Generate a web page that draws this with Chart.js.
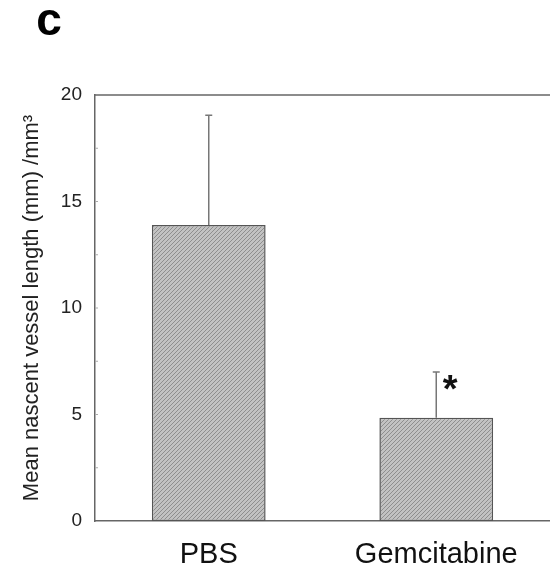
<!DOCTYPE html>
<html>
<head>
<meta charset="utf-8">
<script src="https://cdn.jsdelivr.net/npm/chart.js@4"></script>
<style>
    html, body { margin: 0; padding: 0; background: #fff; }
    #wrap { width: 550px; height: 576px; position: relative; }
</style>
</head>
<body>
<div id="wrap"><canvas id="barChart" width="550" height="576"></canvas></div>
<script>
// ===== DATA =====
const categories = ["PBS", "Gemcitabine"];
const meanValues = [13.9, 4.85];
const errorTops = [19.05, 7.0];
const significant = [false, true];
const yTicks = [0, 5, 10, 15, 20];

// ===== HATCH PATTERN =====
function makeHatch() {
    const c = document.createElement("canvas");
    c.width = 4;
    c.height = 4;
    const g = c.getContext("2d");
    g.fillStyle = "#c2c2c2";
    g.fillRect(0, 0, 4, 4);
    g.strokeStyle = "#8e8e8e";
    g.lineWidth = 1;
    g.beginPath();
    g.moveTo(0, 4);
    g.lineTo(4, 0);
    g.moveTo(-1, 1);
    g.lineTo(1, -1);
    g.moveTo(3, 5);
    g.lineTo(5, 3);
    g.stroke();
    return g.createPattern(c, "repeat");
}

// ===== EXTRAS: error bars, frame, panel letter =====
const extras = {
    id: "extras",
    afterDatasetsDraw(chart) {
        const ctx = chart.ctx;
        const x = chart.scales.x;
        const y = chart.scales.y;
        const area = chart.chartArea;
        ctx.save();

        // top frame line
        ctx.strokeStyle = "#666";
        ctx.lineWidth = 1.5;
        ctx.beginPath();
        ctx.moveTo(area.left, area.top);
        ctx.lineTo(area.right, area.top);
        ctx.stroke();

        // small tick marks inside the axis
        ctx.lineWidth = 1;
        ctx.strokeStyle = "#aaa";
        for (let v = 2.5; v < 20; v += 2.5) {
            const py = y.getPixelForValue(v);
            ctx.beginPath();
            ctx.moveTo(area.left, py);
            ctx.lineTo(area.left + 3, py);
            ctx.stroke();
        }

        // error bars
        ctx.strokeStyle = "#777";
        ctx.lineWidth = 1.5;
        categories.forEach((cat, i) => {
            const px = x.getPixelForValue(i);
            const yMean = y.getPixelForValue(meanValues[i]);
            const yTop = y.getPixelForValue(errorTops[i]);
            ctx.beginPath();
            ctx.moveTo(px, yMean);
            ctx.lineTo(px, yTop);
            ctx.moveTo(px - 3.5, yTop);
            ctx.lineTo(px + 3.5, yTop);
            ctx.stroke();
            if (significant[i]) {
                ctx.fillStyle = "#111";
                ctx.font = "bold 38px 'Liberation Sans', Arial, sans-serif";
                ctx.textAlign = "center";
                ctx.textBaseline = "middle";
                ctx.fillText("*", px + 14, yTop + 20);
            }
        });

        // panel letter
        ctx.fillStyle = "#000";
        ctx.font = "bold 46px 'Liberation Sans', Arial, sans-serif";
        ctx.textAlign = "center";
        ctx.textBaseline = "alphabetic";
        ctx.fillText("c", 49, 35);
        ctx.restore();
    },
};

// ===== CHART =====
function initChart() {
    const ctx = document.getElementById("barChart").getContext("2d");
    new Chart(ctx, {
        type: "bar",
        data: {
            labels: categories,
            datasets: [
                {
                    data: meanValues,
                    backgroundColor: makeHatch(),
                    borderColor: "#555",
                    borderWidth: 1.5,
                    borderSkipped: false,
                    categoryPercentage: 1.0,
                    barPercentage: 0.5,
                },
            ],
        },
        options: {
            responsive: false,
            animation: false,
            layout: {
                padding: { top: 95, right: 0, bottom: 0, left: 0 },
            },
            plugins: {
                legend: { display: false },
                tooltip: { enabled: false },
            },
            scales: {
                x: {
                    grid: { display: false },
                    border: { color: "#666", width: 1.5 },
                    ticks: {
                        color: "#111",
                        font: { family: "'Liberation Sans', Arial, sans-serif", size: 29 },
                        padding: 9,
                    },
                    afterFit: (s) => { s.height = 55; },
                },
                y: {
                    min: 0,
                    max: 20,
                    afterBuildTicks: (s) => { s.ticks = yTicks.map((v) => ({ value: v })); },
                    grid: { display: false },
                    border: { color: "#666", width: 1.5 },
                    ticks: {
                        color: "#222",
                        font: { family: "'Liberation Sans', Arial, sans-serif", size: 19 },
                        padding: 5,
                    },
                    title: {
                        display: true,
                        text: "Mean nascent vessel length (mm) /mm³",
                        color: "#222",
                        font: { family: "'Liberation Sans', Arial, sans-serif", size: 22 },
                        padding: { top: 19, bottom: 0 },
                    },
                    afterFit: (s) => { s.width = 95; },
                },
            },
        },
        plugins: [extras],
    });
}

document.addEventListener("DOMContentLoaded", initChart);
</script>
</body>
</html>
